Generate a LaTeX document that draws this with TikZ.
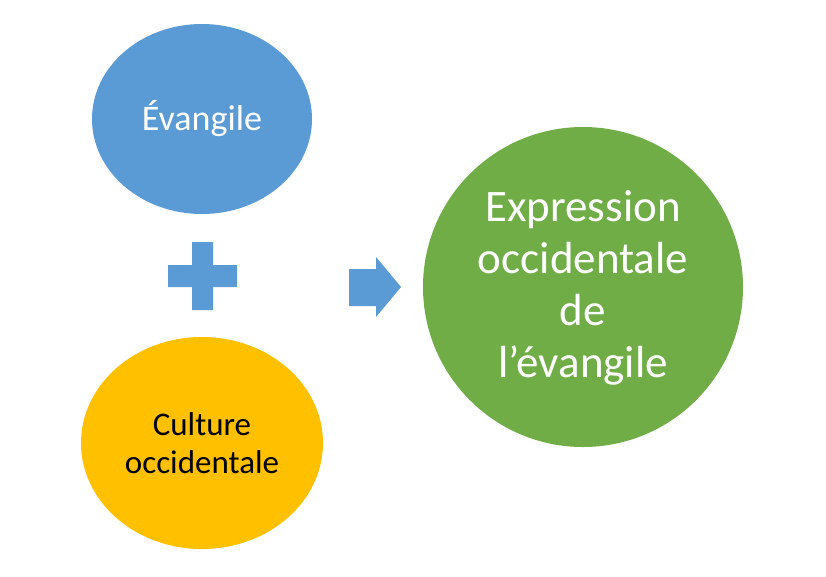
\documentclass[tikz,border=0pt]{standalone}
\usepackage{fontspec}
\setmainfont{Carlito}
\definecolor{cblue}{HTML}{5B9BD5}
\definecolor{cyellow}{HTML}{FFC000}
\definecolor{cgreen}{HTML}{70AD47}
\begin{document}
\begin{tikzpicture}[x=1pt,y=-1pt,
  lbl/.style={align=center,inner sep=0pt}]
\useasboundingbox (0,0) rectangle (826,576);
\fill[white] (0,0) rectangle (826,576);
% ellipses
\fill[cblue] (202,119) ellipse [x radius=110,y radius=95];
\node[lbl,text=white,font=\fontsize{36}{41}\selectfont] (ev) at (202,119) {Évangile};
\fill[cyellow] (202,443) ellipse [x radius=121,y radius=106];
\node[lbl,text=black,font=\fontsize{33}{38}\selectfont] (cu) at (202,443) {Culture\\occidentale};
\fill[cgreen] (583,287) circle [radius=160];
\node[lbl,text=white,font=\fontsize{45}{52}\selectfont] (ex) at (583,288) {Expression\\occidentale\\de\\l’évangile};
% plus sign
\fill[cblue] (192,242) -- (213,242) -- (213,265) -- (237,265) -- (237,287) -- (213,287)
  -- (213,310) -- (192,310) -- (192,287) -- (168,287) -- (168,265) -- (192,265) -- cycle;
% arrow
\fill[cblue] (349,269) -- (376,269) -- (376,257) -- (401,287) -- (376,317) -- (376,306) -- (349,306) -- cycle;
\end{tikzpicture}
\end{document}
